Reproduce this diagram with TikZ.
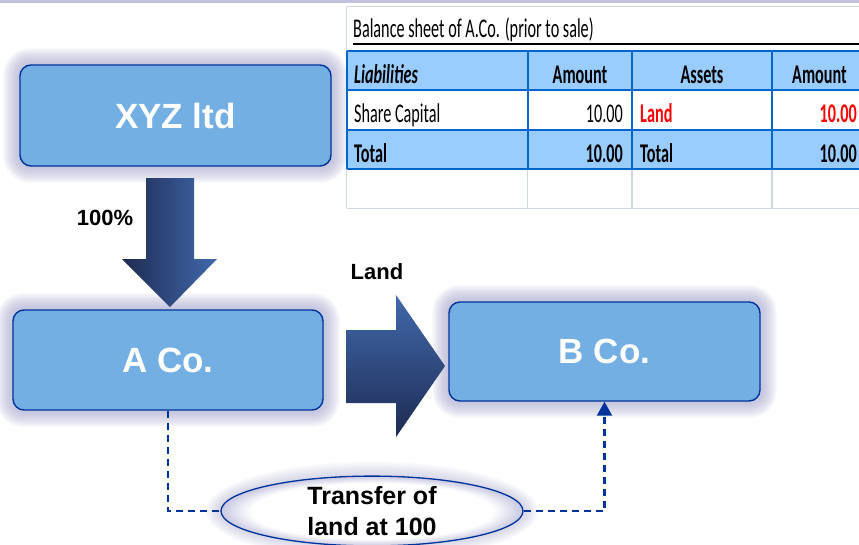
\documentclass[tikz,border=0pt]{standalone}
\usepackage{fontspec}
\setmainfont{Liberation Sans}
\newfontfamily\calib[FakeStretch=0.6]{Carlito}
\usetikzlibrary{calc,arrows.meta,shapes.geometric,backgrounds}
\definecolor{boxfill}{HTML}{74AFE4}
\definecolor{boxline}{HTML}{003399}
\definecolor{glowc}{HTML}{A8A8D0}
\definecolor{ovaledge}{HTML}{C8C8E2}
\definecolor{arrdark}{HTML}{1E2B52}
\definecolor{arrlight}{HTML}{4169AC}
\definecolor{cellblue}{HTML}{99CCFF}
\definecolor{cellline}{HTML}{0066CC}
\definecolor{gridgrey}{HTML}{D0D7E5}
\definecolor{redtxt}{HTML}{FF0000}
\pgfdeclareradialshading{ovalglow}{\pgfpoint{0bp}{0bp}}{color(0bp)=(white);color(20bp)=(white);color(25bp)=(ovaledge);color(50bp)=(ovaledge)}
\begin{document}
\begin{tikzpicture}[x=1pt,y=-1pt,
  entity/.style={rounded corners=11pt, fill=boxfill, draw=boxline, line width=1.4pt,
    text=white, font=\fontsize{35}{40}\selectfont\bfseries, inner sep=0pt},
  oval/.style={ellipse, draw=boxline, line width=1.3pt, shading=ovalglow,
    minimum width=302pt, minimum height=68pt, inner sep=0pt, align=center,
    font=\fontsize{25}{31}\selectfont\bfseries},
  lbl/.style={font=\fontsize{22}{24}\selectfont\bfseries, inner sep=0pt},
  conn/.style={draw=boxline, line width=2.2pt, dash pattern=on 7pt off 5pt},
  cell/.style={font=\calib\fontsize{27}{30}\selectfont, inner sep=0pt},
  cellb/.style={cell, font=\calib\fontsize{27}{30}\selectfont\bfseries},
  gridline/.style={draw=gridgrey, line width=1.5pt},
  blueline/.style={draw=cellline, line width=2.2pt}]
\useasboundingbox (0,0) rectangle (859,544);
\clip (0,0) rectangle (859,544);
\fill[glowc!70] (0,0) rectangle (859,2.5);

% balance sheet
\fill[white] (346.7,6.7) rectangle (880,208.3);
\draw[gridline] (346.7,208.3) -- (346.7,6.7) -- (880,6.7);
\draw[gridline] (346.7,208.3) -- (880,208.3);
\foreach \cx in {527.7,632,772} \draw[gridline] (\cx,169.3) -- (\cx,208.3);
\fill[cellblue] (346.7,50.7) rectangle (880,90);
\fill[cellblue] (346.7,130) rectangle (880,169.3);
\foreach \ry in {50.7,90,130,169.3} \draw[blueline] (346.7,\ry) -- (880,\ry);
\foreach \cx in {346.7,527.7,632,772} \draw[blueline] (\cx,50.7) -- (\cx,169.3);
\draw[black, line width=2.5pt] (353,44) -- (880,44);
\node[cell, anchor=base west] (title) at (353,37) {Balance sheet of A.Co. (prior to sale)};
\node[cellb, anchor=base west] (h1) at (354,83.3) {\itshape Liabilities};
\node[cellb, anchor=base] (h2) at (580,83.3) {Amount};
\node[cellb, anchor=base] (h3) at (702,83.3) {Assets};
\node[cellb, anchor=base] (h4) at (819.5,83.3) {Amount};
\node[cell, anchor=base west] (r1) at (354,122.7) {Share Capital};
\node[cell, anchor=base east] (r2) at (623,122.7) {10.00};
\node[cellb, anchor=base west, text=redtxt] (r3) at (640,122.7) {Land};
\node[cellb, anchor=base east, text=redtxt] (r4) at (857,122.7) {10.00};
\node[cellb, anchor=base west] (t1) at (354,162.3) {Total};
\node[cellb, anchor=base east] (t2) at (623,162.3) {10.00};
\node[cellb, anchor=base west] (t3) at (640,162.3) {Total};
\node[cellb, anchor=base east] (t4) at (857,162.3) {10.00};

% entities
\node[entity, minimum width=311pt, minimum height=101pt] (xyz) at (175.5,115.5) {XYZ ltd};
\node[entity, minimum width=310pt, minimum height=100pt] (aco) at (168,360) {A Co.};
\node[entity, minimum width=311pt, minimum height=99pt] (bco) at (604.5,351.5) {B Co.};
\node[oval] (trans) at (372,511) {Transfer of\\land at 100};

% block arrows
\shade[left color=arrdark, right color=arrlight]
  (146,178) -- (194,178) -- (194,259) -- (217,259) -- (170,307) -- (122,259) -- (146,259) -- cycle;
\shade[top color=arrlight, bottom color=arrdark]
  (346,330) -- (396,330) -- (396,295) -- (445,366) -- (396,437) -- (396,403) -- (346,403) -- cycle;
\node[lbl] (pct) at (105,217.5) {100\%};
\node[lbl] (landlbl) at (377,272) {Land};

% dashed transfer path
\draw[conn] (aco.south) |- (trans.west);
\draw[conn, -{Triangle[width=15pt,length=14pt]}] (trans.east) -| (bco.south);

% white ground and soft glows behind the shapes
\begin{pgfonlayer}{background}
  \clip (0,0) rectangle (859,544);
  \fill[white] (0,0) rectangle (859,544);
  \foreach \n in {xyz,aco,bco}{
    \foreach \d in {1,...,10}{
      \fill[glowc, opacity=0.09, rounded corners=11pt+1.6pt*\d]
        ($(\n.south west)+(-1.6*\d,1.6*\d)$) rectangle ($(\n.north east)+(1.6*\d,-1.6*\d)$);
    }
  }
  \foreach \d in {1,...,9}{
    \fill[glowc, opacity=0.06] (trans.center) ellipse [x radius={151+1.7*\d}, y radius={34+1.7*\d}];
  }
\end{pgfonlayer}
\end{tikzpicture}
\end{document}
